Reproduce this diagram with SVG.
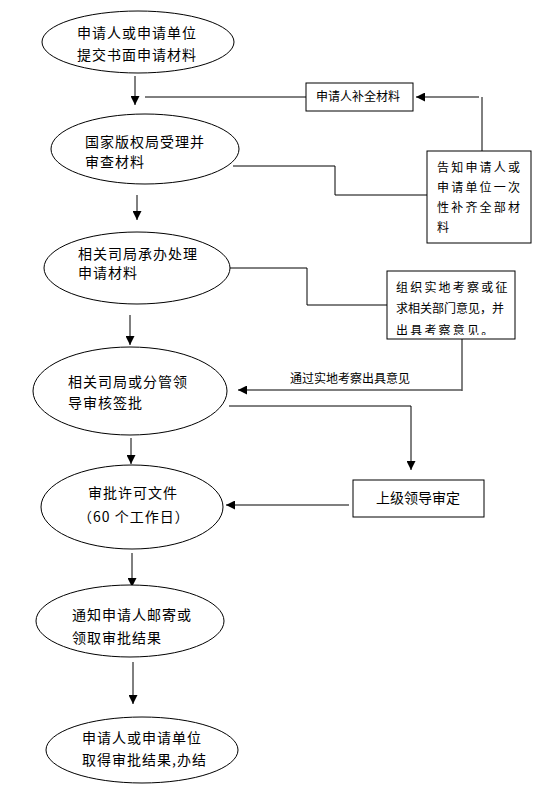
<svg xmlns="http://www.w3.org/2000/svg" width="547" height="792" viewBox="0 0 547 792">
<style>
.n{fill:#fff;stroke:#000;stroke-width:1}
.t{font-family:"Noto Sans CJK SC","Liberation Sans",sans-serif;font-size:14px;letter-spacing:1px;fill:#000}
.s{font-family:"Noto Sans CJK SC","Liberation Sans",sans-serif;font-size:12px;fill:#000}
.w{letter-spacing:2.2px}
.c{fill:none;stroke:#000;stroke-width:1}
.a{fill:none;stroke:#000;stroke-width:1;marker-end:url(#ah)}
.g{stroke:#555;stroke-width:1.5}
</style>
<defs>
<marker id="ah" viewBox="0 0 10 10" refX="10" refY="5" markerWidth="9" markerHeight="9" markerUnits="userSpaceOnUse" orient="auto">
<path d="M0,0 L10,5 L0,10 z" fill="#000"/>
</marker>
<clipPath id="clipBox"><rect x="387" y="271" width="128" height="64"/></clipPath>
</defs>
<rect width="547" height="792" fill="#fff"/>
<g id="connectors">
<line class="a" x1="135" y1="76" x2="135" y2="105"/>
<line class="c" x1="145" y1="97" x2="306" y2="97"/>
<line class="a g" x1="479" y1="97" x2="416" y2="97"/>
<line class="c" x1="482" y1="97" x2="482" y2="151"/>
<polyline class="c" points="233,166 335,166 335,195 427,195"/>
<line class="a" x1="137" y1="195" x2="137" y2="220"/>
<polyline class="c" points="230,268 307,268 307,305 387,305"/>
<line class="a" x1="130" y1="315" x2="130" y2="345"/>
<line class="c" x1="462" y1="339" x2="462" y2="391"/>
<line class="a g" x1="462" y1="390" x2="238" y2="390"/>
<polyline class="a" points="229,406 411,406 411,470"/>
<line class="a" x1="131" y1="438" x2="131" y2="464"/>
<line class="a g" x1="349" y1="505" x2="226" y2="505"/>
<line class="a" x1="132" y1="553" x2="132" y2="587"/>
<line class="a" x1="133" y1="662" x2="133" y2="704"/>
<text class="s" x="290" y="383">通过实地考察出具意见</text>
</g>
<g id="n1">
<ellipse class="n" cx="138" cy="42" rx="96" ry="31"/>
<text class="t" x="77" y="38">申请人或申请单位</text>
<text class="t" x="77" y="60">提交书面申请材料</text>
</g>
<g id="n2">
<ellipse class="n" cx="145" cy="149" rx="94" ry="35"/>
<text class="t" x="85" y="147">国家版权局受理并</text>
<text class="t" x="85" y="167">审查材料</text>
</g>
<g id="n3">
<ellipse class="n" cx="137" cy="268" rx="93" ry="36"/>
<text class="t" x="78" y="259">相关司局承办处理</text>
<text class="t" x="78" y="278">申请材料</text>
</g>
<g id="n4">
<ellipse class="n" cx="130" cy="391" rx="97" ry="44"/>
<text class="t" x="68" y="387">相关司局或分管领</text>
<text class="t" x="68" y="408">导审核签批</text>
</g>
<g id="n5">
<ellipse class="n" cx="132" cy="507" rx="91" ry="42"/>
<text class="t" x="88" y="498">审批许可文件</text>
<text class="t" x="78" y="522">（60 个工作日）</text>
</g>
<g id="n6">
<ellipse class="n" cx="130" cy="621" rx="94" ry="36"/>
<text class="t" x="72" y="620">通知申请人邮寄或</text>
<text class="t" x="72" y="643">领取审批结果</text>
</g>
<g id="n7">
<ellipse class="n" cx="142" cy="750" rx="96" ry="33"/>
<text class="t" x="82" y="743">申请人或申请单位</text>
<text class="t" x="82" y="765">取得审批结果,办结</text>
</g>
<g id="b1">
<rect class="n" x="306" y="83" width="107" height="28"/>
<text class="s" x="316" y="101">申请人补全材料</text>
</g>
<g id="b2">
<rect class="n" x="427" y="151" width="104" height="92"/>
<text class="s w" x="437" y="172">告知申请人或</text>
<text class="s w" x="437" y="192">申请单位一次</text>
<text class="s w" x="437" y="212">性补齐全部材</text>
<text class="s w" x="437" y="232">料</text>
</g>
<g id="b3">
<rect class="n" x="387" y="271" width="128" height="68"/>
<text class="s w" x="396" y="292">组织实地考察或征</text>
<text class="s" x="396" y="313">求相关部门意见，并</text>
<text class="s w" x="396" y="335" clip-path="url(#clipBox)">出具考察意见。</text>
</g>
<g id="b4">
<rect class="n" x="353" y="480" width="131" height="37"/>
<text class="t" x="376" y="503" style="letter-spacing:0">上级领导审定</text>
</g>
</svg>
